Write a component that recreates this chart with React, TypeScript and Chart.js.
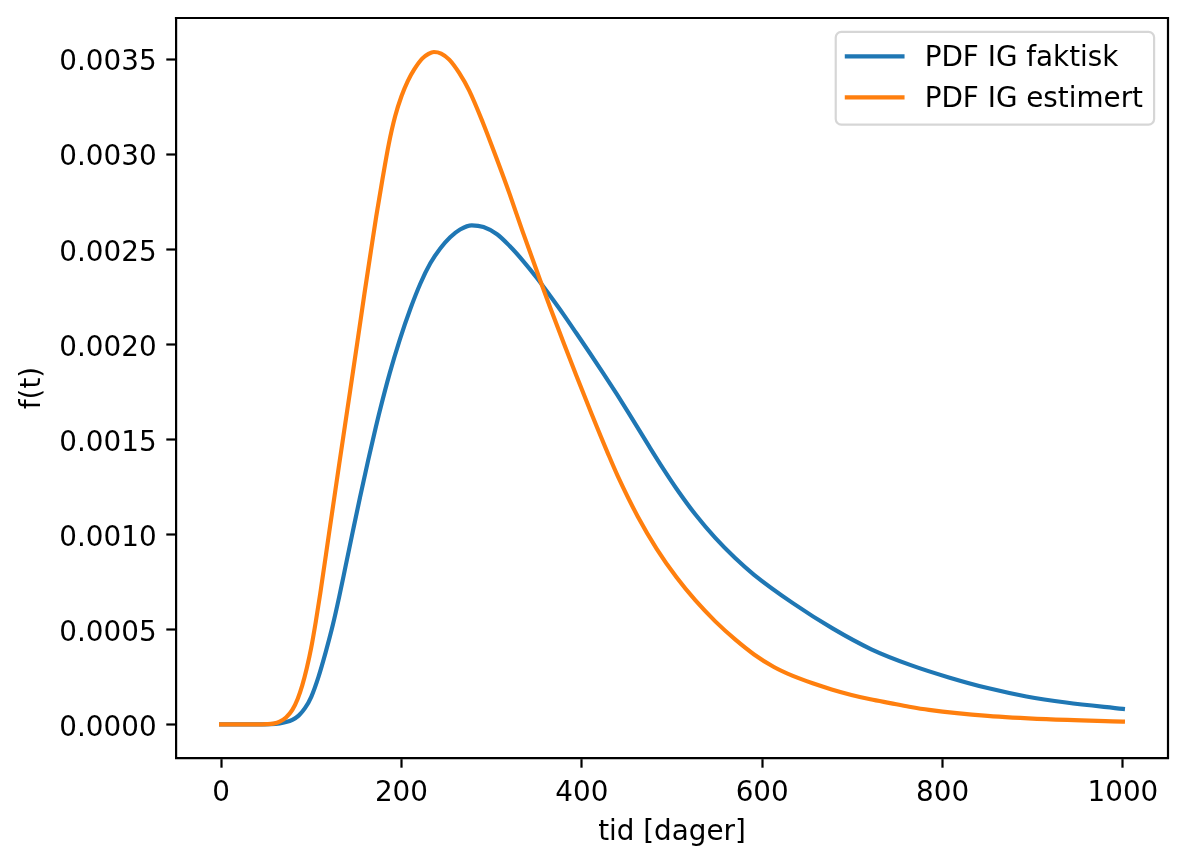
import { useEffect, useRef } from "react";
import { Chart, registerables } from "chart.js";

Chart.register(...registerables);

// ---- data ----
const seriesLabels = ["PDF IG faktisk", "PDF IG estimert"];
const seriesColors = ["#1f77b4", "#ff7f0e"];

const tFaktisk = [
  0, 40, 55, 65, 72, 79, 86, 93, 100, 108, 116, 124, 131, 138, 146, 154, 163,
  170, 176, 187, 198, 210, 221, 232, 243, 254, 265, 278, 291, 306, 320, 335, 350,
  365, 380, 394, 409, 424, 439, 453, 475, 490, 505, 526, 548, 570, 591, 634, 678,
  721, 764, 807, 850, 893, 937, 1000,
];
const fFaktisk = [
  0, 0, 0.000001, 0.000005, 0.000012, 0.000024, 0.000046, 0.000085, 0.000145,
  0.00025, 0.00038, 0.000525, 0.000672, 0.000831, 0.001014, 0.001194, 0.001388,
  0.001532, 0.00165, 0.001848, 0.002022, 0.002188, 0.00232, 0.002426, 0.002504,
  0.002563, 0.002604, 0.002626, 0.002617, 0.002579, 0.002517, 0.002438, 0.00235,
  0.002254, 0.002155, 0.002058, 0.001953, 0.001846, 0.001736, 0.00163, 0.00146,
  0.001347, 0.00124, 0.001104, 0.000981, 0.000875, 0.000787, 0.000638, 0.000505,
  0.000395, 0.000313, 0.000247, 0.000191, 0.000147, 0.000115, 0.0000817,
];

const tEstimert = [
  0, 40, 50, 58, 65, 72, 79, 85, 90, 95, 100, 105, 110, 120, 131, 142, 151, 159,
  166, 172, 179, 186, 193, 200, 207, 214, 223, 230, 236, 244, 253, 264, 275, 290,
  305, 320, 334, 355, 365, 380, 394, 411, 429, 440, 462, 483, 505, 526, 548, 570,
  591, 613, 634, 656, 677, 699, 720, 742, 763, 785, 850, 915, 1000,
];
const fEstimert = [
  0, 0, 0.000001, 0.000004, 0.000014, 0.000036, 0.000076, 0.000135, 0.000205,
  0.000295, 0.000405, 0.00054, 0.00069, 0.001015, 0.00137, 0.00172, 0.002008,
  0.002268, 0.002487, 0.002672, 0.00287, 0.003055, 0.0032, 0.003305, 0.003385,
  0.003445, 0.003503, 0.003528, 0.003538, 0.00353, 0.003498, 0.003428, 0.003336,
  0.00317, 0.002984, 0.00279, 0.002598, 0.002321, 0.002192, 0.002005, 0.001834,
  0.001632, 0.001425, 0.001305, 0.001094, 0.000924, 0.000774, 0.000652,
  0.000542, 0.000447, 0.000368, 0.000302, 0.000255, 0.000216, 0.000184,
  0.000155, 0.000132, 0.000112, 0.000093, 0.0000764, 0.0000448, 0.0000274,
  0.0000147,
];

const xTicks = [0, 200, 400, 600, 800, 1000];
const yTicks = [0, 0.0005, 0.001, 0.0015, 0.002, 0.0025, 0.003, 0.0035];
const xTitle = "tid [dager]";
const yTitle = "f(t)";
const xRange = [-50, 1050];
const yRange = [-0.000177, 0.003717];

// ---- styling ----
const FONT = "'DejaVu Sans', sans-serif";
const FS = 27.8;
const W = 1188;
const H = 865;

const framePlugin = {
  id: "mplFrame",
  afterDraw(chart: any) {
    const { ctx, chartArea: a } = chart;
    ctx.save();
    // top and right spines
    ctx.strokeStyle = "#000";
    ctx.lineWidth = 2.2;
    ctx.lineCap = "square";
    ctx.beginPath();
    ctx.moveTo(a.left, a.top);
    ctx.lineTo(a.right, a.top);
    ctx.lineTo(a.right, a.bottom);
    ctx.stroke();

    // legend (matplotlib style, upper right)
    const em = FS;
    const borderPad = 0.4 * em;
    const handleLen = 2.0 * em;
    const handlePad = 0.8 * em;
    const axPad = 0.5 * em;
    ctx.font = `${FS}px ${FONT}`;
    const ds = chart.data.datasets;
    let tw = 0;
    ds.forEach((d: any) => {
      tw = Math.max(tw, ctx.measureText(d.label).width);
    });
    const boxW = borderPad + handleLen + handlePad + tw + borderPad;
    const rowH = 41;
    const boxH = 92.7;
    const right = a.right - axPad;
    const left = right - boxW;
    const top = a.top + axPad;
    ctx.beginPath();
    ctx.roundRect(left, top, boxW, boxH, 5.6);
    ctx.fillStyle = "rgba(255,255,255,0.8)";
    ctx.fill();
    ctx.strokeStyle = "rgba(204,204,204,0.8)";
    ctx.lineWidth = 2.2;
    ctx.stroke();
    ds.forEach((d: any, i: number) => {
      const cy = top + 24.4 + i * rowH;
      ctx.beginPath();
      ctx.strokeStyle = d.borderColor;
      ctx.lineWidth = d.borderWidth;
      ctx.lineCap = "square";
      ctx.moveTo(left + borderPad, cy);
      ctx.lineTo(left + borderPad + handleLen, cy);
      ctx.stroke();
      ctx.fillStyle = "#000";
      ctx.textBaseline = "alphabetic";
      ctx.textAlign = "left";
      ctx.fillText(d.label, left + borderPad + handleLen + handlePad, cy + 10);
    });
    ctx.restore();
  },
};

const zeroPad = (s: any) => {
  s.paddingTop = 0;
  s.paddingBottom = 0;
  s.paddingLeft = 0;
  s.paddingRight = 0;
};

export default function App() {
  const ref = useRef<HTMLCanvasElement | null>(null);

  useEffect(() => {
    if (!ref.current) return;
    const font = { family: FONT, size: FS };
    const chart = new Chart(ref.current, {
      type: "line",
      data: {
        datasets: [
          {
            label: seriesLabels[0],
            data: tFaktisk.map((t, i) => ({ x: t, y: fFaktisk[i] })),
            borderColor: seriesColors[0],
            backgroundColor: seriesColors[0],
            borderWidth: 4.17,
            pointRadius: 0,
            cubicInterpolationMode: "monotone",
            borderCapStyle: "square",
            order: 1,
          },
          {
            label: seriesLabels[1],
            data: tEstimert.map((t, i) => ({ x: t, y: fEstimert[i] })),
            borderColor: seriesColors[1],
            backgroundColor: seriesColors[1],
            borderWidth: 4.17,
            pointRadius: 0,
            cubicInterpolationMode: "monotone",
            borderCapStyle: "square",
            order: 0,
          },
        ],
      },
      options: {
        animation: false,
        responsive: false,
        parsing: false,
        layout: { padding: { left: 0, top: 18, right: 20, bottom: 0 } },
        plugins: {
          legend: { display: false },
          tooltip: { enabled: false },
        },
        scales: {
          x: {
            type: "linear",
            min: xRange[0],
            max: xRange[1],
            afterBuildTicks: (s: any) => {
              s.ticks = xTicks.map((v) => ({ value: v }));
            },
            afterFit: (s: any) => {
              s.height = H - 758;
              zeroPad(s);
            },
            grid: {
              display: true,
              drawOnChartArea: false,
              drawTicks: true,
              tickLength: 9.7,
              tickWidth: 2.2,
              tickColor: "#000",
            },
            border: { display: true, color: "#000", width: 2.2 },
            ticks: {
              font,
              color: "#000",
              padding: 9.5,
              maxRotation: 0,
              autoSkip: false,
              callback: (v: any) => String(v),
            },
            title: {
              display: true,
              text: xTitle,
              font,
              color: "#000",
              padding: { top: 0, bottom: 16 },
            },
          },
          y: {
            type: "linear",
            min: yRange[0],
            max: yRange[1],
            afterBuildTicks: (s: any) => {
              s.ticks = yTicks.map((v) => ({ value: v }));
            },
            afterFit: (s: any) => {
              s.width = 176;
              zeroPad(s);
            },
            grid: {
              display: true,
              drawOnChartArea: false,
              drawTicks: true,
              tickLength: 9.7,
              tickWidth: 2.2,
              tickColor: "#000",
            },
            border: { display: true, color: "#000", width: 2.2 },
            ticks: {
              font,
              color: "#000",
              padding: 9.7,
              labelOffset: 4,
              autoSkip: false,
              callback: (v: any) => Number(v).toFixed(4),
            },
            title: {
              display: true,
              text: yTitle,
              font,
              color: "#000",
              padding: { top: 15.7, bottom: 0 },
            },
          },
        },
      },
      plugins: [framePlugin],
    } as any);
    return () => chart.destroy();
  }, []);

  return (
    <div
      style={{
        position: "absolute",
        left: 0,
        top: 0,
        width: W,
        height: H,
        background: "#fff",
      }}
    >
      <canvas
        ref={ref}
        width={W}
        height={H}
        style={{ display: "block", width: W, height: H }}
      />
    </div>
  );
}
